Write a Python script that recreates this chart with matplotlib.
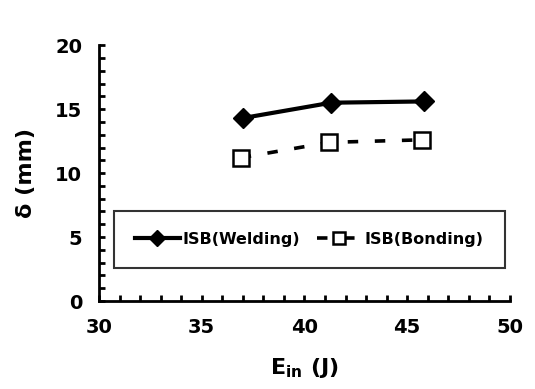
import matplotlib.pyplot as plt
from matplotlib.ticker import MultipleLocator

E_IN = [37.0, 41.3, 45.8]
DELTA_WELDING = [14.3, 15.5, 15.6]
E_IN_BOND = [36.9, 41.2, 45.7]
DELTA_BONDING = [11.2, 12.4, 12.6]

plt.rcParams["font.family"] = ["DejaVu Sans"]
plt.rcParams["font.weight"] = "bold"

fig = plt.figure(figsize=(5.35, 3.89), dpi=100)
ax = fig.add_axes([0.185, 0.226, 0.768, 0.658])

ax.plot(E_IN, DELTA_WELDING, color="black", linewidth=3, marker="D",
        markersize=10, label="ISB(Welding)")
ax.plot(E_IN_BOND, DELTA_BONDING, color="black", linewidth=2.6,
        linestyle=(0, (2.9, 4.6)), marker="s", markersize=11.5,
        markerfacecolor="white", markeredgewidth=1.8, label="ISB(Bonding)")

ax.set_xlim(30, 50)
ax.set_ylim(0, 20)
ax.xaxis.set_major_locator(MultipleLocator(5))
ax.xaxis.set_minor_locator(MultipleLocator(1))
ax.yaxis.set_major_locator(MultipleLocator(5))
ax.yaxis.set_minor_locator(MultipleLocator(1))
ax.tick_params(which="both", direction="in", width=2, length=4, labelsize=14, pad=12)
for lab in ax.get_xticklabels() + ax.get_yticklabels():
    lab.set_fontweight("bold")

for side in ("top", "right"):
    ax.spines[side].set_visible(False)
for side in ("left", "bottom"):
    ax.spines[side].set_linewidth(2)

ax.set_xlabel("E$_{\\mathbf{in}}$ (J)", fontsize=16, fontweight="bold", labelpad=14)
ax.set_ylabel("δ (mm)", fontsize=16, fontweight="bold", labelpad=14)

leg = ax.legend(loc="lower left", bbox_to_anchor=(0.037, 0.13, 0.95, 0.22),
                mode="expand", ncol=2, fontsize=11.5, handlelength=2.8,
                markerscale=0.8, frameon=True, fancybox=False,
                edgecolor="black", borderpad=1.3, borderaxespad=0,
                columnspacing=0.6, handletextpad=0.2)
leg.get_frame().set_linewidth(1.5)
for t in leg.get_texts():
    t.set_fontweight("bold")

fig.savefig("out.png", dpi=100)
